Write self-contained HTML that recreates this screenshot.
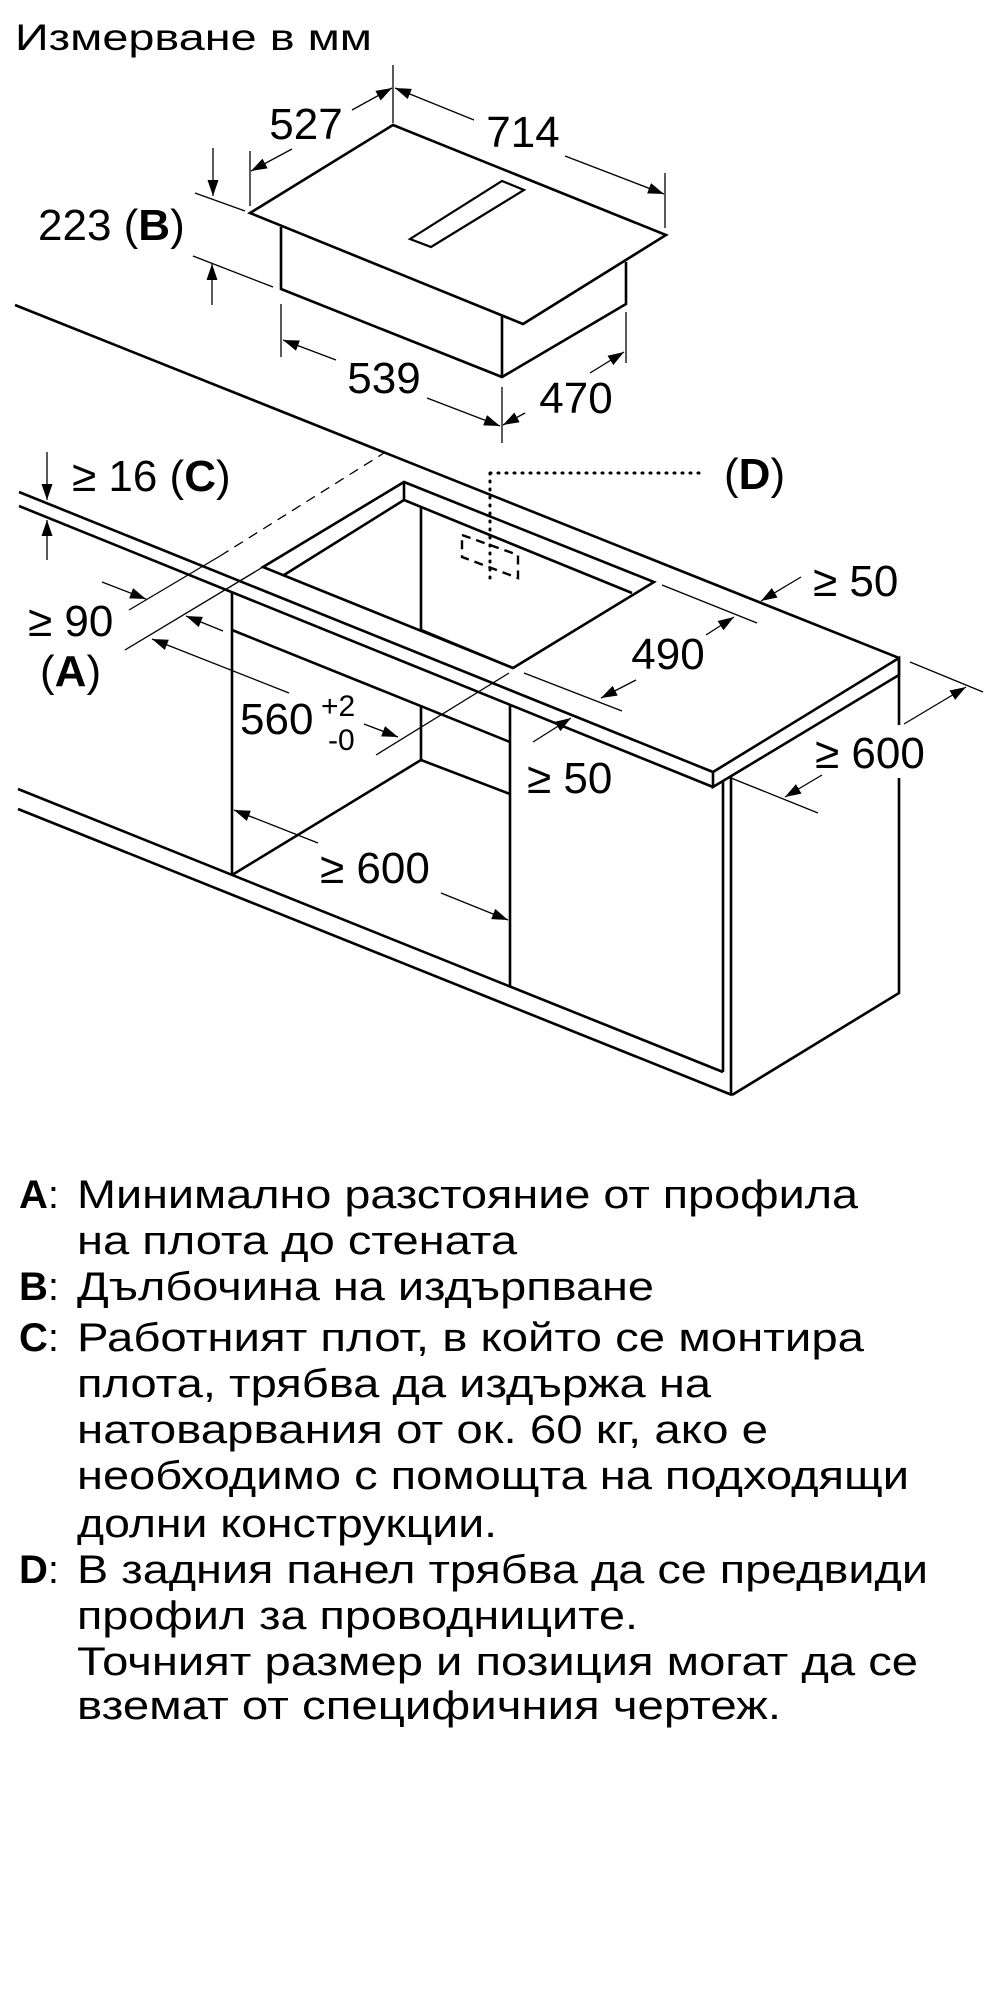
<!DOCTYPE html>
<html><head><meta charset="utf-8"><style>
html,body{margin:0;padding:0;background:#fff;}
svg{display:block;}
text{font-family:"Liberation Sans",Arial,sans-serif;fill:#000;}
</style></head><body>
<svg width="1000" height="2000" viewBox="0 0 1000 2000" xmlns="http://www.w3.org/2000/svg">
<defs>
<marker id="ah" viewBox="0 0 16 11" refX="16" refY="5.5" markerWidth="16" markerHeight="11" markerUnits="userSpaceOnUse" orient="auto"><path d="M0,0 L16,5.5 L0,11 z" fill="#000"/></marker>
</defs>
<text x="15" y="50" font-size="37" textLength="357" lengthAdjust="spacingAndGlyphs">Измерване в мм</text>

<g stroke="#000" fill="none" stroke-width="2.6" stroke-linejoin="miter">
<path d="M250,213 L393,125 L666,235 L523,324 Z"/>
<path d="M410,239 L502,181 L524,190 L431,247 Z" stroke-width="2.2"/>
<path d="M281,227 L281,289 L502,377 L626,304 L626,262"/>
<path d="M502,315 L502,377"/>
<path d="M15,305 L899,658"/>
<path d="M19,492 L713,772 L899,658 L899,675 L713,787 L713,772"/>
<path d="M19,506 L713,787"/>
<path d="M263,567 L404,482 L654,582 L513,668 Z"/>
<path d="M404,482 L404,500 L632,593"/>
<path d="M404,500 L284,575"/>
<path d="M421,507 L421,630 L513,668"/>
<path d="M232,592 L232,875"/>
<path d="M510,705 L510,987"/>
<path d="M232,630 L510,742"/>
<path d="M421,706 L421,760 L510,794"/>
<path d="M421,760 L232,875"/>
<path d="M723,781 L723,1072"/>
<path d="M731,776 L731,1095"/>
<path d="M899,658 L899,725 M899,778 L899,993 L732,1095"/>
<path d="M18,789 L723,1072"/>
<path d="M18,809 L732,1095"/>
</g>

<g fill="none" stroke="#000">
<path d="M462,535 L518,555 L518,578 L462,557 Z" stroke-width="2.4" stroke-dasharray="9,6"/>
<path d="M490,473 L704,473 M490,473 L490,578" stroke-width="3" stroke-dasharray="1,7" stroke-linecap="round"/>
<path d="M220,556 L384,453" stroke-width="1.3" stroke-dasharray="10,7"/>
</g>

<g stroke="#000" stroke-width="1.3" fill="none">
<path d="M393,65 L393,123"/>
<path d="M250,151 L250,206"/>
<path d="M665,173 L665,228"/>
<path d="M195,193 L245,211"/>
<path d="M193,256 L273,287"/>
<path d="M281,304 L281,357"/>
<path d="M502,387 L502,443"/>
<path d="M626,312 L626,363"/>
<path d="M129,610 L220,556"/>
<path d="M125,650 L263,567"/>
<path d="M509,673 L376,755"/>
<path d="M662,585 L757,623"/>
<path d="M524,673 L622,711"/>
<path d="M910,662 L983,692"/>
<path d="M731,778 L818,813"/>
</g>
<g stroke="#000" stroke-width="1.3" fill="none" marker-end="url(#ah)">
<path d="M352,110 L392,88"/>
<path d="M292,149 L251,171"/>
<path d="M474,120 L395,88"/>
<path d="M565,156 L664,194"/>
<path d="M213,148 L213,196"/>
<path d="M212,305 L212,264"/>
<path d="M336,360 L283,340"/>
<path d="M427,398 L500,426"/>
<path d="M590,373 L624,352"/>
<path d="M525,413 L503,425"/>
<path d="M47,452 L47,500"/>
<path d="M47,560 L47,520"/>
<path d="M102,582 L146,599"/>
<path d="M223,631 L186,616"/>
<path d="M289,693 L152,639"/>
<path d="M364,724 L398,737"/>
<path d="M533,742 L571,718"/>
<path d="M706,635 L734,617"/>
<path d="M636,680 L601,698"/>
<path d="M801,577 L761,601"/>
<path d="M904,724 L966,687"/>
<path d="M822,775 L785,797"/>
<path d="M441,893 L508,920"/>
<path d="M318,843 L234,810"/>
</g>

<g font-size="44">
<text x="306" y="139" text-anchor="middle">527</text>
<text x="523" y="147" text-anchor="middle">714</text>
<text x="38" y="240">223 (<tspan font-weight="bold">B</tspan>)</text>
<text x="384" y="393" text-anchor="middle">539</text>
<text x="576" y="413" text-anchor="middle">470</text>
<text x="72" y="491">≥ 16 (<tspan font-weight="bold">C</tspan>)</text>
<text x="724" y="489">(<tspan font-weight="bold">D</tspan>)</text>
<text x="28" y="636">≥ 90</text>
<text x="40" y="686">(<tspan font-weight="bold">A</tspan>)</text>
<text x="240" y="734">560</text>
<text x="321" y="716" font-size="30">+2</text>
<text x="328" y="750" font-size="30">-0</text>
<text x="813" y="596">≥ 50</text>
<text x="668" y="669" text-anchor="middle">490</text>
<text x="527" y="793">≥ 50</text>
<text x="815" y="768">≥ 600</text>
<text x="320" y="883">≥ 600</text>
</g>

<g font-size="40">
<text x="19" y="1208"><tspan font-weight="bold">A</tspan>:</text>
<text x="77" y="1208" textLength="781" lengthAdjust="spacingAndGlyphs">Минимално разстояние от профила</text>
<text x="77" y="1254" textLength="440" lengthAdjust="spacingAndGlyphs">на плота до стената</text>
<text x="19" y="1300"><tspan font-weight="bold">B</tspan>:</text>
<text x="77" y="1300" textLength="577" lengthAdjust="spacingAndGlyphs">Дълбочина на издърпване</text>
<text x="19" y="1351"><tspan font-weight="bold">C</tspan>:</text>
<text x="77" y="1351" textLength="787" lengthAdjust="spacingAndGlyphs">Работният плот, в който се монтира</text>
<text x="77" y="1397" textLength="634" lengthAdjust="spacingAndGlyphs">плота, трябва да издържа на</text>
<text x="77" y="1443" textLength="691" lengthAdjust="spacingAndGlyphs">натоварвания от ок. 60 кг, ако е</text>
<text x="77" y="1489" textLength="832" lengthAdjust="spacingAndGlyphs">необходимо с помощта на подходящи</text>
<text x="77" y="1537" textLength="420" lengthAdjust="spacingAndGlyphs">долни конструкции.</text>
<text x="19" y="1583"><tspan font-weight="bold">D</tspan>:</text>
<text x="77" y="1583" textLength="851" lengthAdjust="spacingAndGlyphs">В задния панел трябва да се предвиди</text>
<text x="77" y="1629" textLength="561" lengthAdjust="spacingAndGlyphs">профил за проводниците.</text>
<text x="77" y="1675" textLength="841" lengthAdjust="spacingAndGlyphs">Точният размер и позиция могат да се</text>
<text x="77" y="1719" textLength="704" lengthAdjust="spacingAndGlyphs">вземат от специфичния чертеж.</text>
</g>
</svg>
</body></html>
